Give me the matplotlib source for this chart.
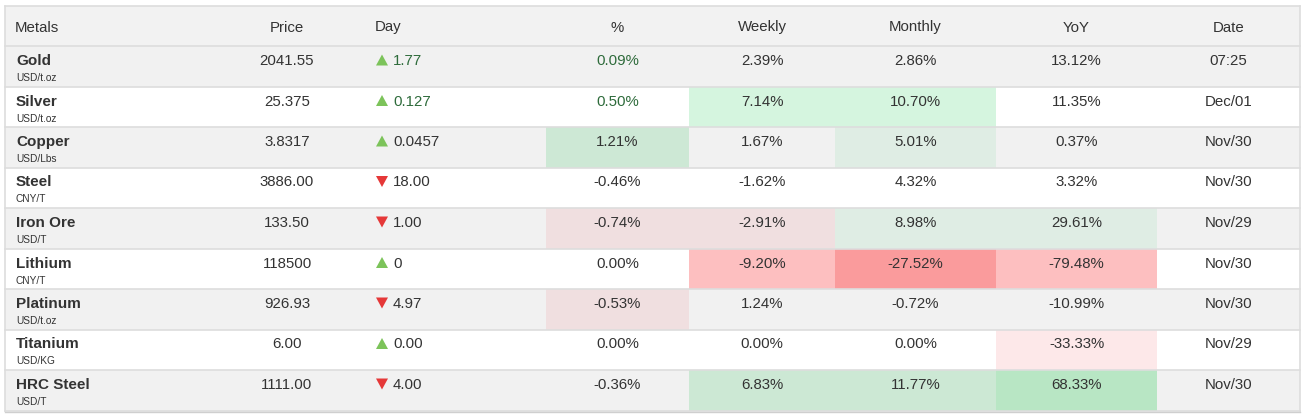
import matplotlib
matplotlib.use("Agg")
import matplotlib.pyplot as plt
from matplotlib.patches import Rectangle, Polygon

# ---------------- data ----------------
headers = ["Metals", "Price", "Day", "%", "Weekly", "Monthly", "YoY", "Date"]
metals = ["Gold", "Silver", "Copper", "Steel", "Iron Ore", "Lithium", "Platinum", "Titanium", "HRC Steel"]
units = ["USD/t.oz", "USD/t.oz", "USD/Lbs", "CNY/T", "USD/T", "CNY/T", "USD/t.oz", "USD/KG", "USD/T"]
prices = ["2041.55", "25.375", "3.8317", "3886.00", "133.50", "118500", "926.93", "6.00", "1111.00"]
day_change = ["1.77", "0.127", "0.0457", "18.00", "1.00", "0", "4.97", "0.00", "4.00"]
day_up = [True, True, True, False, False, True, False, True, False]
pct = ["0.09%", "0.50%", "1.21%", "-0.46%", "-0.74%", "0.00%", "-0.53%", "0.00%", "-0.36%"]
weekly = ["2.39%", "7.14%", "1.67%", "-1.62%", "-2.91%", "-9.20%", "1.24%", "0.00%", "6.83%"]
monthly = ["2.86%", "10.70%", "5.01%", "4.32%", "8.98%", "-27.52%", "-0.72%", "0.00%", "11.77%"]
yoy = ["13.12%", "11.35%", "0.37%", "3.32%", "29.61%", "-79.48%", "-10.99%", "-33.33%", "68.33%"]
dates = ["07:25", "Dec/01", "Nov/30", "Nov/30", "Nov/29", "Nov/30", "Nov/30", "Nov/29", "Nov/30"]
live_rows = [0, 1]  # rows whose Day/% text is shown in green

# ---------------- styles ----------------
cell_colors = {
    (1, 4): "#d5f5df", (1, 5): "#d5f5df",
    (2, 3): "#cde8d5", (2, 5): "#dfede4",
    (4, 3): "#f0dfe0", (4, 4): "#f0dfe0", (4, 5): "#dfede4", (4, 6): "#dfede4",
    (5, 4): "#fdbfc0", (5, 5): "#fa9b9c", (5, 6): "#fdbfc0",
    (6, 3): "#f0dfe0",
    (7, 6): "#fde8e9",
    (8, 4): "#cce8d4", (8, 5): "#cce8d4", (8, 6): "#b8e6c4",
}
W, H = 1305, 416
col_edges = [5, 210, 365, 546, 689, 835, 996, 1157, 1300]
top, head_h, row_h = 6, 40, 40.5
TXT = "#333333"
GREEN_TXT = "#2e6b3b"
FONT = "Liberation Sans"
fs = 10.8

fig = plt.figure(figsize=(W / 100, H / 100), dpi=100)
ax = fig.add_axes([0, 0, 1, 1])
ax.set_xlim(0, W)
ax.set_ylim(H, 0)
ax.axis("off")

# header background
ax.add_patch(Rectangle((col_edges[0], top), col_edges[-1] - col_edges[0], head_h,
                       facecolor="#f2f2f2", edgecolor="none"))
hy = top + 25.5
for j, h in enumerate(headers):
    if j == 0:
        ax.text(col_edges[0] + 10, hy, h, ha="left", va="baseline", fontsize=fs, color=TXT, family=FONT)
    elif j == 1:
        ax.text(287, hy, h, ha="center", va="baseline", fontsize=fs, color=TXT, family=FONT)
    elif j == 2:
        ax.text(375, hy, h, ha="left", va="baseline", fontsize=fs, color=TXT, family=FONT)
    else:
        ax.text((col_edges[j] + col_edges[j + 1]) / 2, hy, h, ha="center", va="baseline",
                fontsize=fs, color=TXT, family=FONT)

cols = [pct, weekly, monthly, yoy, dates]
for i, name in enumerate(metals):
    y0 = top + head_h + i * row_h
    bg = "#f1f1f1" if i % 2 == 0 else "#ffffff"
    ax.add_patch(Rectangle((col_edges[0], y0), col_edges[-1] - col_edges[0], row_h,
                           facecolor=bg, edgecolor="none"))
    for (r, c), colr in cell_colors.items():
        if r == i:
            ax.add_patch(Rectangle((col_edges[c], y0), col_edges[c + 1] - col_edges[c], row_h,
                                   facecolor=colr, edgecolor="none"))
    bl = y0 + 19
    ty = y0 + 14.5
    ax.text(16, bl, name, ha="left", va="baseline", fontsize=fs + 0.2, fontweight="bold",
            color=TXT, family=FONT)
    ax.text(16, y0 + 35, units[i], ha="left", va="baseline", fontsize=7.3, color=TXT, family=FONT)
    ax.text(287, bl, prices[i], ha="center", va="baseline", fontsize=fs, color=TXT, family=FONT)
    # triangle
    tx = 382
    if day_up[i]:
        tri = [(tx - 6, ty + 5), (tx + 6, ty + 5), (tx, ty - 6)]
        tc = "#7cc35a"
    else:
        tri = [(tx - 6, ty - 6), (tx + 6, ty - 6), (tx, ty + 5)]
        tc = "#e53838"
    ax.add_patch(Polygon(tri, closed=True, facecolor=tc, edgecolor="none"))
    dcol = GREEN_TXT if i in live_rows else TXT
    ax.text(393, bl, day_change[i], ha="left", va="baseline", fontsize=fs, color=dcol, family=FONT)
    for k, vals in enumerate(cols):
        j = 3 + k
        c = GREEN_TXT if (k == 0 and i in live_rows) else TXT
        ax.text((col_edges[j] + col_edges[j + 1]) / 2, bl, vals[i], ha="center", va="baseline",
                fontsize=fs, color=c, family=FONT)

# horizontal separators
n = len(metals)
for i in range(n + 1):
    y = top + head_h + i * row_h
    ax.plot([col_edges[0], col_edges[-1]], [y, y], color="#dddddd", lw=1.2)
# outer border
ax.plot([col_edges[0], col_edges[-1]], [top, top], color="#dddddd", lw=1.2)
bottom = top + head_h + n * row_h
ax.plot([col_edges[0], col_edges[0]], [top, bottom], color="#dddddd", lw=1.2)
ax.plot([col_edges[-1], col_edges[-1]], [top, bottom], color="#dddddd", lw=1.2)
ax.plot([col_edges[0], col_edges[-1]], [bottom + 1, bottom + 1], color="#cfcfcf", lw=1.0)

fig.savefig("out.png", dpi=100)
